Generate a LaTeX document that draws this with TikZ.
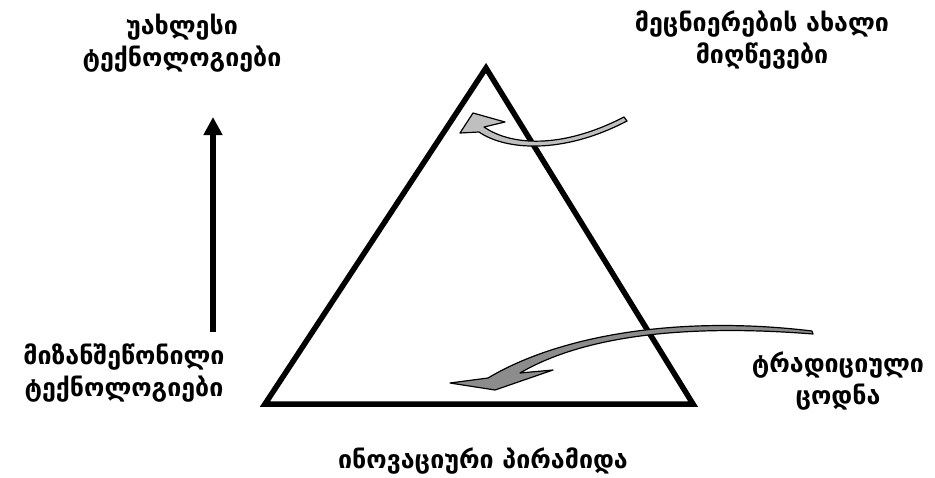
\documentclass[tikz,border=0pt]{standalone}
\usepackage{fontspec}
\newfontfamily\geofont{DejaVu Sans}
\usetikzlibrary{arrows.meta}

\tikzset{
  lbl/.style={font=\geofont\bfseries\fontsize{25}{32}\selectfont, align=center, inner sep=0pt},
  bend arrow/.style={draw=black, line width=1.2pt, line join=round},
}

\begin{document}
\begin{tikzpicture}[x=1pt,y=-1pt]
\useasboundingbox (0,0) rectangle (935,477);

% Pyramide
\coordinate (apex) at (486,68);
\coordinate (bl) at (265,404);
\coordinate (br) at (693,404);
\draw[line width=5.5pt] (apex) -- (br) -- (bl) -- cycle;

% Textes
\node[lbl] (newtech) at (182,43) {უახლესი\\ტექნოლოგიები};
\node[lbl] (science) at (762,40) {მეცნიერების ახალი\\მიღწევები};
\node[lbl] (apptech) at (124,373) {მიზანშეწონილი\\ტექნოლოგიები};
\node[lbl] (tradition) at (838,381) {ტრადიციული\\ცოდნა};
\node[lbl] (pyramid) at (483,461) {ინოვაციური პირამიდა};

% Flèche verticale
\coordinate (uplow) at (213,332);
\coordinate (uptop) at (213,117);
\draw[line width=6pt, -{Triangle[width=18pt,length=18pt]}] (uplow) -- (uptop);

% Flèche courbe en haut
\draw[bend arrow, fill=black!25] (460,133) -- (473,113) -- (505,122) -- (484,127)
  .. controls (510,145) and (560,150) .. (624,117) -- (627,121)
  .. controls (562,155) and (505,150) .. (479,132) -- cycle;

% Flèche courbe en bas
\draw[bend arrow, fill=black!45] (450,383) -- (488,378)
  .. controls (560,335) and (680,315) .. (812,331) -- (813,334)
  .. controls (700,325) and (590,332) .. (520,373) -- (553,370) -- (495,390) -- cycle;
\end{tikzpicture}
\end{document}
